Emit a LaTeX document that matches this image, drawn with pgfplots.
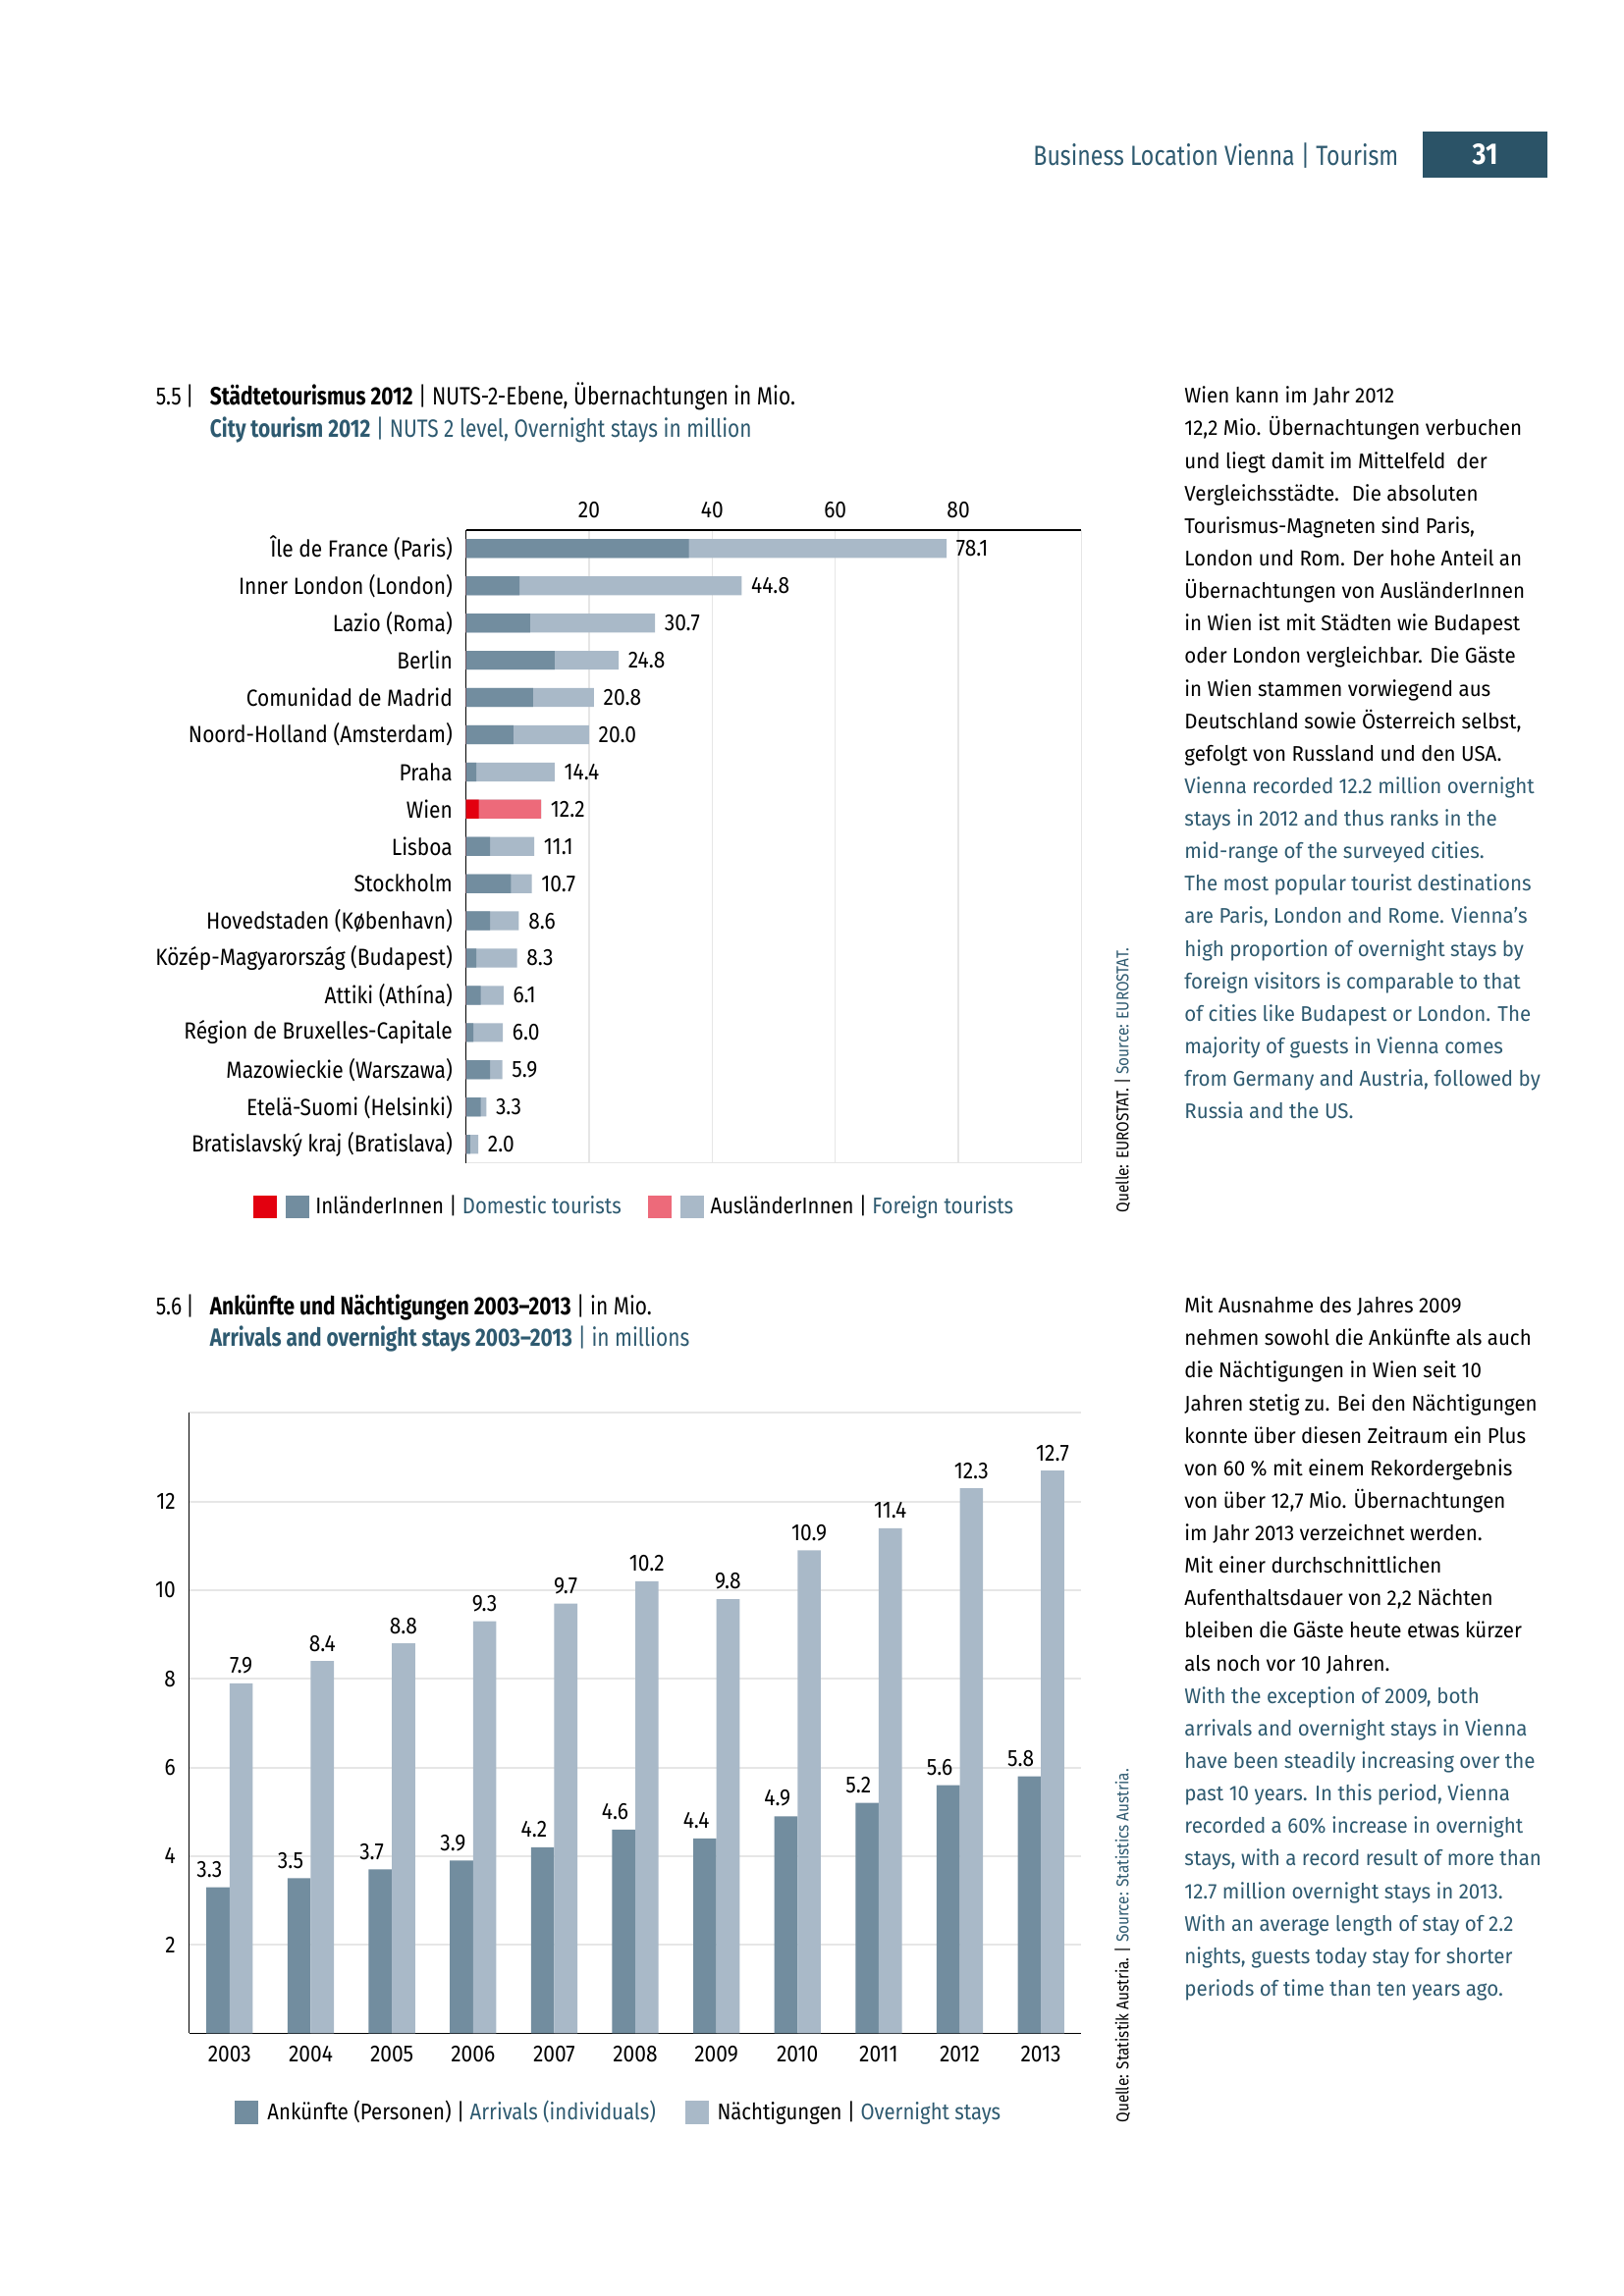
\documentclass[border=0pt]{standalone}
\usepackage{fontspec}
\setmainfont{Fira Sans}
\newfontfamily\cond{Fira Sans}[FakeStretch=0.88]
\newfontfamily\tcond{Fira Sans}[FakeStretch=0.82]
\newfontfamily\bodyf{Fira Sans}[FakeStretch=0.95]
\usepackage{pgfplots}
\pgfplotsset{compat=1.18}
\usepackage{pgfplotstable}
\definecolor{eng}{HTML}{2E5A70}
\definecolor{boxc}{HTML}{2B5367}
\definecolor{bdark}{HTML}{728D9F}
\definecolor{blight}{HTML}{A9B9C8}
\definecolor{wred}{HTML}{E3000F}
\definecolor{wpink}{HTML}{ED6A7A}
\definecolor{gridc}{HTML}{E6E6E6}
\newcommand\lab{\cond\fontsize{8.6}{10.3}\selectfont}
\newcommand\legf{\cond\fontsize{8.35}{10}\selectfont}
\newcommand\ttl{\tcond\fontsize{9.2}{11}\selectfont}
\newcommand\bod{\bodyf\fontsize{7.8}{11.97}\selectfont}
\newcommand\src{\cond\fontsize{6.3}{7.5}\selectfont}
\newcommand\hdr{\tcond\fontsize{10.2}{12}\selectfont}
\newcommand\hdrb{\cond\bfseries\fontsize{11}{12}\selectfont}
\pgfplotsset{sqleg/.style={legend image code/.code={\fill[##1] (0mm,-1.5mm) rectangle (3.05mm,1.5mm);}}}
\pgfplotstableread{
y dom domW tot totW
16 36.2 0 78.1 0
15 8.7 0 44.8 0
14 10.4 0 30.7 0
13 14.4 0 24.8 0
12 10.9 0 20.8 0
11 7.7 0 20.0 0
10 1.7 0 14.4 0
9 0 2.1 12.2 12.2
8 3.9 0 11.1 0
7 7.3 0 10.7 0
6 3.9 0 8.6 0
5 1.7 0 8.3 0
4 2.4 0 6.1 0
3 1.2 0 6.0 0
2 3.9 0 5.9 0
1 2.4 0 3.3 0
0 0.7 0 2.0 0
}\tabA
\pgfplotstableread{
x arr ovn
0 3.3 7.9
1 3.5 8.4
2 3.7 8.8
3 3.9 9.3
4 4.2 9.7
5 4.6 10.2
6 4.4 9.8
7 4.9 10.9
8 5.2 11.4
9 5.6 12.3
10 5.8 12.7
}\tabB
\begin{document}
\begin{tikzpicture}
\path[use as bounding box, fill=white] (0,0) rectangle (210mm,-297mm);
% header
\node[anchor=base east, inner sep=0, text=eng, font=\hdr] at (180.91mm,-21.42mm) {Business Location Vienna | Tourism};
\fill[boxc] (184.01mm,-17.05mm) rectangle (200.11mm,-22.92mm);
\node[text=white, font=\hdrb] at (192.06mm,-19.99mm) {31};
% title 1
\node[anchor=base west, inner sep=0, font=\ttl] at (20.09mm,-52.35mm) {5.5\,|};
\node[anchor=base west, inner sep=0, font=\ttl] at (27.09mm,-52.35mm) {\textbf{Städtetourismus 2012} | NUTS-2-Ebene, Übernachtungen in Mio.};
\node[anchor=base west, inner sep=0, font=\ttl, text=eng] at (27.09mm,-56.52mm) {\textbf{City tourism 2012} | NUTS 2 level, Overnight stays in million};
% title 2
\node[anchor=base west, inner sep=0, font=\ttl] at (20.09mm,-170.03mm) {5.6\,|};
\node[anchor=base west, inner sep=0, font=\ttl] at (27.09mm,-170.03mm) {\textbf{Ankünfte und Nächtigungen 2003–2013} | in Mio.};
\node[anchor=base west, inner sep=0, font=\ttl, text=eng] at (27.09mm,-174.21mm) {\textbf{Arrivals and overnight stays 2003–2013} | in millions};
% sources
\node[rotate=90, anchor=west, inner sep=0, font=\src] at (145.16mm,-156.91mm) {Quelle: EUROSTAT. | \textcolor{eng}{Source: EUROSTAT.}};
\node[rotate=90, anchor=west, inner sep=0, font=\src] at (145.16mm,-274.65mm) {Quelle: Statistik Austria. | \textcolor{eng}{Source: Statistics Austria.}};
% body text 1
\node[anchor=base west, inner sep=0] at (153.12mm,-52.17mm) {\parbox[t]{62mm}{\bod\raggedright
Wien kann im Jahr 2012\\
12,2 Mio. Übernachtungen verbuchen\\
und liegt damit im Mittelfeld~ der\\
Vergleichsstädte.~ Die absoluten\\
Tourismus-Magneten sind Paris,\\
London und Rom. Der hohe Anteil an\\
Übernachtungen von AusländerInnen\\
in Wien ist mit Städten wie Budapest\\
oder London vergleichbar. Die Gäste\\
in Wien stammen vorwiegend aus\\
Deutschland sowie Österreich selbst,\\
gefolgt von Russland und den USA.\\
{\color{eng}Vienna recorded 12.2 million overnight\\
stays in 2012 and thus ranks in the\\
mid-range of the surveyed cities.\\
The most popular tourist destinations\\
are Paris, London and Rome. Vienna’s\\
high proportion of overnight stays by\\
foreign visitors is comparable to that\\
of cities like Budapest or London. The\\
majority of guests in Vienna comes\\
from Germany and Austria, followed by\\
Russia and the US.}\par}};
% body text 2
\node[anchor=base west, inner sep=0] at (153.12mm,-169.85mm) {\parbox[t]{62mm}{\bod\raggedright
Mit Ausnahme des Jahres 2009\\
nehmen sowohl die Ankünfte als auch\\
die Nächtigungen in Wien seit 10\\
Jahren stetig zu. Bei den Nächtigungen\\
konnte über diesen Zeitraum ein Plus\\
von 60 \% mit einem Rekordergebnis\\
von über 12,7 Mio. Übernachtungen\\
im Jahr 2013 verzeichnet werden.\\
Mit einer durchschnittlichen\\
Aufenthaltsdauer von 2,2 Nächten\\
bleiben die Gäste heute etwas kürzer\\
als noch vor 10 Jahren.\\
{\color{eng}With the exception of 2009, both\\
arrivals and overnight stays in Vienna\\
have been steadily increasing over the\\
past 10 years. In this period, Vienna\\
recorded a 60\% increase in overnight\\
stays, with a record result of more than\\
12.7 million overnight stays in 2013.\\
With an average length of stay of 2.2\\
nights, guests today stay for shorter\\
periods of time than ten years ago.}\par}};
% chart 1
\begin{axis}[
  at={(60.26mm,-68.55mm)}, anchor=north west,
  scale only axis, width=79.6mm, height=81.87mm,
  xbar, bar width=2.44mm,
  xmin=0, xmax=100, ymin=-0.5, ymax=16.5,
  axis x line*=top, axis y line*=left,
  axis line style={black, line width=0.6pt},
  xtick={20,40,60,80}, ytick={0,...,16},
  yticklabels={Bratislavský kraj (Bratislava), Etelä-Suomi (Helsinki), Mazowieckie (Warszawa), Région de Bruxelles-Capitale, Attiki (Athína), Közép-Magyarország (Budapest), Hovedstaden (København), Stockholm, Lisboa, Wien, Praha, Noord-Holland (Amsterdam), Comunidad de Madrid, Berlin, Lazio (Roma), Inner London (London), Île de France (Paris)},
  major tick length=0pt,
  xmajorgrids, grid style={gridc, line width=0.45pt},
  extra x ticks={100}, extra x tick labels={}, extra x tick style={grid=major},
  extra y ticks={-0.5}, extra y tick labels={}, extra y tick style={grid=major},
  tick label style={font=\lab},
  yticklabel style={xshift=-0.5mm},
  xticklabel style={yshift=0.3mm},
  /pgf/number format/assume math mode=true,
  legend columns=4, legend cell align=left, reverse legend,
  legend style={at={(-0.3459,-0.0694)}, anchor=west, draw=none, fill=none, inner sep=0pt, column sep=0pt, nodes={inner sep=0pt, anchor=west}, font=\legf},
  every node near coord/.append style={font=\lab},
]
\addplot[fill=blight, draw=none, bar shift=0pt, sqleg,
  nodes near coords={\pgfmathprintnumber[fixed,fixed zerofill,precision=1]{\pgfplotspointmeta}}]
  table[x=tot, y=y]{\tabA};
\addlegendentry{\kern0.9mm AusländerInnen | \textcolor{eng}{Foreign tourists}}
\addplot[fill=wpink, draw=none, bar shift=0pt, sqleg] table[x=totW, y=y]{\tabA};
\addlegendentry{\rule{1.14mm}{0pt}}
\addplot[fill=bdark, draw=none, bar shift=0pt, sqleg] table[x=dom, y=y]{\tabA};
\addlegendentry{\kern0.76mm InländerInnen | \textcolor{eng}{Domestic tourists}\rule{3.4mm}{0pt}}
\addplot[fill=wred, draw=none, bar shift=0pt, sqleg] table[x=domW, y=y]{\tabA};
\addlegendentry{\rule{1.14mm}{0pt}}
\end{axis}
% chart 2
\begin{axis}[
  at={(24.45mm,-182.77mm)}, anchor=north west,
  scale only axis, width=115.41mm, height=80.26mm,
  ybar=0pt, bar width=3.0mm,
  xmin=-0.5, xmax=10.5, ymin=0, ymax=14,
  axis x line*=bottom, axis y line*=left,
  axis line style={black, line width=0.6pt},
  xtick={0,1,2,3,4,5,6,7,8,9,10},
  xticklabels={2003,2004,2005,2006,2007,2008,2009,2010,2011,2012,2013},
  ytick={2,4,6,8,10,12},
  major tick length=0pt,
  ymajorgrids, grid style={gridc, line width=0.7pt},
  extra y ticks={14}, extra y tick labels={}, extra y tick style={grid=major},
  tick label style={font=\lab},
  yticklabel style={xshift=-0.5mm},
  xticklabel style={yshift=-0.4mm},
  /pgf/number format/assume math mode=true,
  legend columns=2, legend cell align=left,
  legend style={at={(0.0509,-0.1276)}, anchor=west, draw=none, fill=none, inner sep=0pt, column sep=0pt, nodes={inner sep=0pt, anchor=west}, font=\legf},
  every node near coord/.append style={font=\lab},
]
\addplot[fill=bdark, draw=none, bar shift=-1.5mm, sqleg,
  nodes near coords={\pgfmathprintnumber[fixed,fixed zerofill,precision=1]{\pgfplotspointmeta}},
  every node near coord/.append style={xshift=-1.1mm}]
  table[x=x, y=arr]{\tabB};
\addlegendentry{\kern1.15mm Ankünfte (Personen) | \textcolor{eng}{Arrivals (individuals)}\rule{3.8mm}{0pt}}
\addplot[fill=blight, draw=none, bar shift=1.5mm, sqleg,
  nodes near coords={\pgfmathprintnumber[fixed,fixed zerofill,precision=1]{\pgfplotspointmeta}}]
  table[x=x, y=ovn]{\tabB};
\addlegendentry{\kern1.1mm Nächtigungen | \textcolor{eng}{Overnight stays}}
\end{axis}
\end{tikzpicture}
\end{document}
